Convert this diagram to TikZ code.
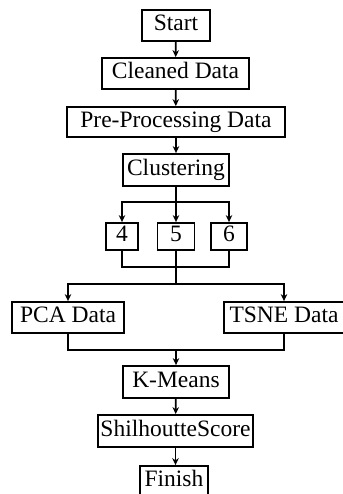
\documentclass[tikz,border=0pt]{standalone}
\usepackage{fontspec}
\setmainfont{Liberation Serif}
\usetikzlibrary{arrows.meta}
\begin{document}
\begin{tikzpicture}[x=1pt,y=-1pt,
  box/.style={draw, line width=1.8pt, inner sep=0pt, font=\fontsize{23.5}{28}\selectfont, text height=15.5pt, text depth=5pt},
  conn/.style={line width=1.7pt},
  arr/.style={conn, -{Stealth[length=7pt,width=6.5pt]}}]
\useasboundingbox (0,0) rectangle (342,494);
\node[box, minimum width=68pt, minimum height=31pt] (start) at (176,25.5) {Start};
\node[box, minimum width=147pt, minimum height=31pt] (clean) at (175.5,73.5) {Cleaned Data};
\node[box, minimum width=218pt, minimum height=30pt] (pre) at (176,122) {Pre-Processing Data};
\node[box, minimum width=106pt, minimum height=32pt] (clus) at (176,170) {Clustering};
\node[box, minimum width=32pt, minimum height=27pt] (n4) at (122,236.5) {4};
\node[box, minimum width=37pt, minimum height=27pt] (n5) at (176,236.5) {5};
\node[box, minimum width=36pt, minimum height=27pt] (n6) at (229,236.5) {6};
\node[box, minimum width=112pt, minimum height=31pt] (pca) at (68,317.5) {PCA Data};
\node[box, minimum width=120pt, minimum height=31pt] (tsne) at (284,317.5) {TSNE Data};
\node[box, minimum width=106pt, minimum height=32pt] (km) at (176,382) {K-Means};
\node[box, minimum width=155pt, minimum height=32pt] (sil) at (175.5,431) {ShilhoutteScore};
\node[box, minimum width=68pt, minimum height=31pt] (fin) at (174,481.5) {Finish};
\coordinate (b1) at (176,202);
\coordinate (m1) at (176,267);
\coordinate (b2) at (176,284);
\coordinate (m2) at (176,350);
\draw[arr] (start) -- (clean);
\draw[arr] (clean) -- (pre);
\draw[arr] (pre) -- (clus);
\draw[conn] (clus) -- (b1);
\draw[arr] (b1) -| (n4.north);
\draw[arr] (b1) -- (n5);
\draw[arr] (b1) -| (n6.north);
\draw[conn] (n4.south) |- (m1) -| (n6.south);
\draw[conn] (n5.south) -- (b2);
\draw[arr] (b2) -| (pca.north);
\draw[arr] (b2) -| (tsne.north);
\draw[conn] (pca.south) |- (m2) -| (tsne.south);
\draw[arr] (m2) -- (km);
\draw[arr] (km) -- (sil);
\draw[arr] (sil) -- (fin.north -| sil.south);
\end{tikzpicture}
\end{document}
